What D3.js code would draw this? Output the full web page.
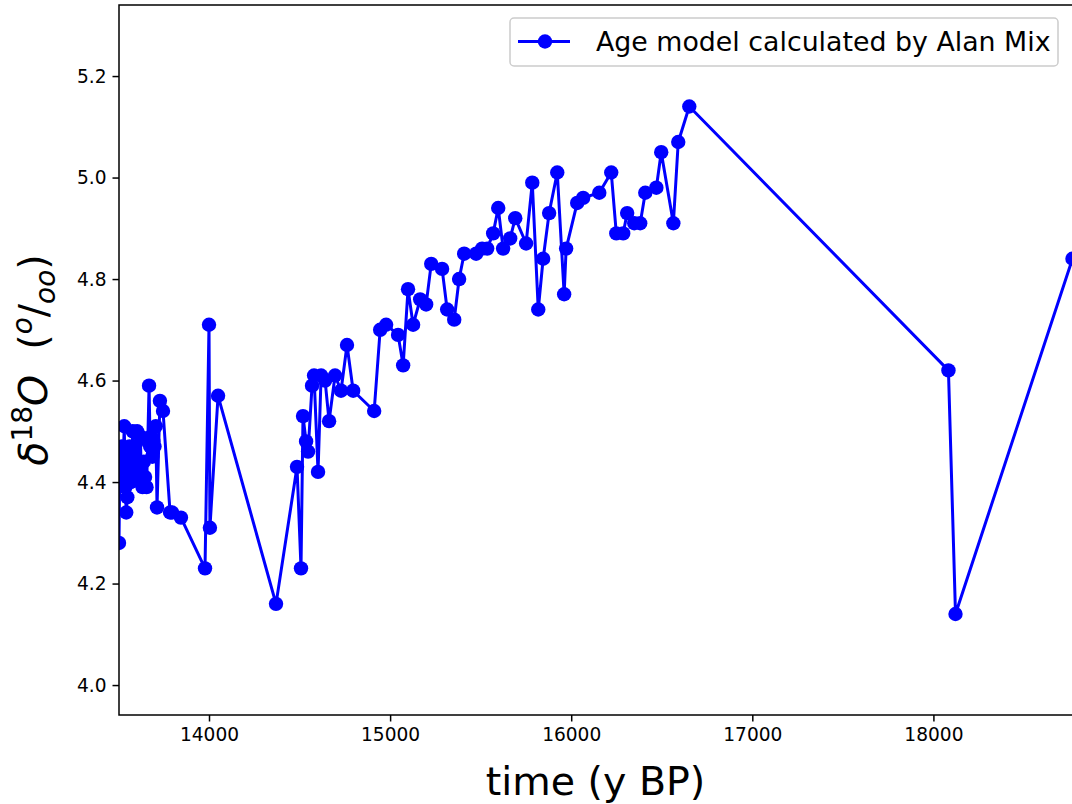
<!DOCTYPE html>
<html><head><meta charset="utf-8">
<script src="https://cdn.jsdelivr.net/npm/d3@7"></script>
<style>body{margin:0;background:#fff} text{font-family:"DejaVu Sans",sans-serif}</style>
</head><body><svg id="c" width="1072" height="804"></svg>
<script>
const ages = [13503,13508,13513,13519,13525,13532,13538,13543,13549,13555,13561,13567,13573,13579,13585,13591,13597,13603,13609,13615,13621,13627,13633,13640,13647,13655,13662,13669,13675,13681,13687,13693,13699,13706,13713,13729,13746,13785,13796,13845,13978,14000,14005,14050,14370,
14486,14508,14519,14536,14547,14569,14580,14602,14619,14641,14663,14696,14729,14762,14796,14912,14945,14978,15044,15072,15099,15127,15166,15199,15227,15287,15315,15354,15381,15409,15475,15508,15536,15569,15597,15624,15663,15691,15751,15785,15818,15845,15878,15923,15961,15972,16033,16066,16155,16221,16249,16287,16309,16348,16381,16409,16470,16497,16564,16591,16652,18083,18122,18768];
const d18O = [4.28,4.45,4.40,4.47,4.43,4.51,4.39,4.34,4.37,4.42,4.47,4.40,4.45,4.50,4.43,4.47,4.41,4.50,4.44,4.42,4.49,4.40,4.39,4.44,4.41,4.39,4.48,4.59,4.47,4.49,4.45,4.48,4.47,4.51,4.35,4.56,4.54,4.34,4.34,4.33,4.23,4.71,4.31,4.57,4.16,
4.43,4.23,4.53,4.48,4.46,4.59,4.61,4.42,4.61,4.60,4.52,4.61,4.58,4.67,4.58,4.54,4.70,4.71,4.69,4.63,4.78,4.71,4.76,4.75,4.83,4.82,4.74,4.72,4.80,4.85,4.85,4.86,4.86,4.89,4.94,4.86,4.88,4.92,4.87,4.99,4.74,4.84,4.93,5.01,4.77,4.86,4.95,4.96,4.97,5.01,4.89,4.89,4.93,4.91,4.91,4.97,4.98,5.05,4.91,5.07,5.14,4.62,4.14,4.84];
const xTicks = [14000,15000,16000,17000,18000];
const yTicks = [4.0,4.2,4.4,4.6,4.8,5.0,5.2];
const seriesName = "Age model calculated by Alan Mix";

const svg = d3.select("#c");
const L = 119, T = 5, R = 1072.5, B = 715;
const x = d3.scaleLinear().domain([d3.min(ages), d3.max(ages)]).range([L, R]);
const y = d3.scaleLinear().domain([3.941, 5.34]).range([B, T]);
const blue = "#0000ff";

svg.append("defs").append("clipPath").attr("id","clip")
  .append("rect").attr("x",L).attr("y",T).attr("width",R-L).attr("height",B-T);

const data = ages.map((a,i)=>({a, v:d18O[i]}));
const g = svg.append("g").attr("clip-path","url(#clip)");
g.append("path").datum(data)
  .attr("d", d3.line().x(d=>x(d.a)).y(d=>y(d.v)))
  .attr("fill","none").attr("stroke",blue).attr("stroke-width",3).attr("stroke-linejoin","round");
g.selectAll("circle").data(data).join("circle")
  .attr("cx",d=>x(d.a)).attr("cy",d=>y(d.v)).attr("r",7.2).attr("fill",blue);

// axes
const xAxis = d3.axisBottom(x).tickValues(xTicks).tickSize(6.5).tickPadding(6).tickFormat(d3.format("d"));
const yAxis = d3.axisLeft(y).tickValues(yTicks).tickSize(6.5).tickPadding(6).tickFormat(d3.format(".1f"));
const gx = svg.append("g").attr("transform",`translate(0,${B})`).call(xAxis);
const gy = svg.append("g").attr("transform",`translate(${L},0)`).call(yAxis);
[gx,gy].forEach(a=>{
  a.select(".domain").remove();
  a.selectAll(".tick line").attr("stroke","#000").attr("stroke-width",1.5);
  a.selectAll(".tick text").attr("fill","#000").style("font-size","18.6px").style("font-family","DejaVu Sans");
});
// spines
svg.append("rect").attr("x",L).attr("y",T).attr("width",R-L+5).attr("height",B-T)
  .attr("fill","none").attr("stroke","#000").attr("stroke-width",1.5);

// x label
svg.append("text").attr("x",(L+1072)/2).attr("y",795).attr("text-anchor","middle")
  .style("font-size","39.5px").text("time (y BP)");

// y label
const yl = svg.append("text").attr("transform",`translate(47,${(T+B)/2}) rotate(-90)`)
  .attr("text-anchor","middle").style("font-size","39.5px");
yl.append("tspan").style("font-style","italic").text("δ");
yl.append("tspan").attr("dy",-15).style("font-size","28px").text("18");
yl.append("tspan").attr("dy",15).style("font-style","italic").text("O");
yl.append("tspan").text("\u00a0\u00a0(");
yl.append("tspan").attr("dy",-15).style("font-size","28px").style("font-style","italic").text("o");
yl.append("tspan").attr("dy",15).text("/");
yl.append("tspan").attr("dy",8).style("font-size","28px").style("font-style","italic").text("oo");
yl.append("tspan").attr("dy",-8).text(")");

// legend
const lg = svg.append("g");
lg.append("rect").attr("x",510).attr("y",18).attr("width",548).attr("height",48).attr("rx",4)
  .attr("fill","rgba(255,255,255,0.8)").attr("stroke","#cccccc").attr("stroke-width",1.5);
lg.append("line").attr("x1",518).attr("x2",570).attr("y1",41.5).attr("y2",41.5)
  .attr("stroke",blue).attr("stroke-width",3);
lg.append("circle").attr("cx",545).attr("cy",41.5).attr("r",7.2).attr("fill",blue);
lg.append("text").attr("x",596).attr("y",51).style("font-size","26.8px").text(seriesName);
</script></body></html>
